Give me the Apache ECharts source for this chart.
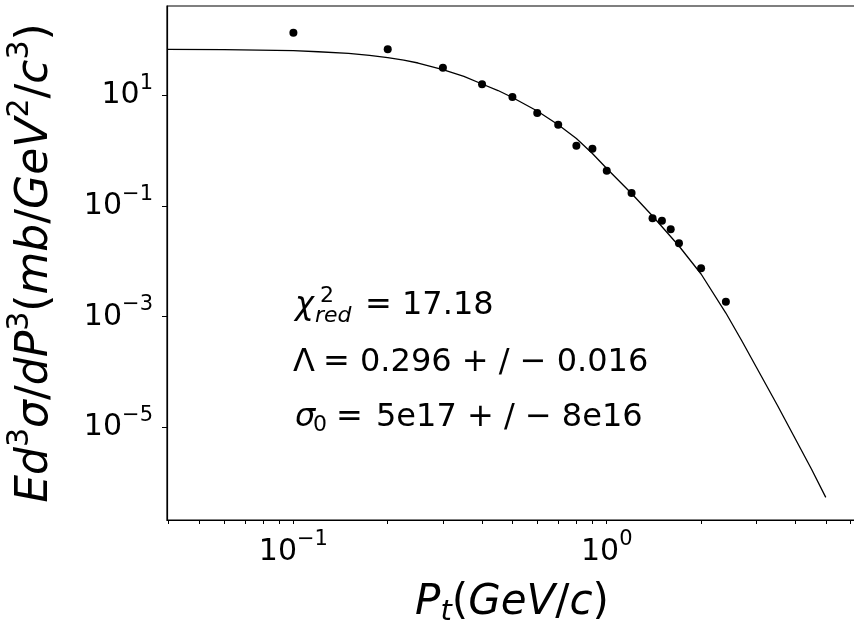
<!DOCTYPE html>
<html>
<head>
<meta charset="utf-8">
<script src="https://cdn.jsdelivr.net/npm/echarts@6.0.0/dist/echarts.min.js"></script>
<style>
html, body { margin: 0; padding: 0; background: #fff; }
#chart { width: 854px; height: 624px; }
</style>
</head>
<body>
<div id="chart"></div>
<script>
// measured spectrum points (pt in GeV/c, invariant yield)
const ptData = [0.1, 0.2, 0.3, 0.4, 0.5, 0.6, 0.7, 0.8, 0.9, 1.0, 1.2, 1.4, 1.5, 1.6, 1.7, 2.0, 2.4];
const yieldData = [136.6, 68.4, 31.8, 15.9, 9.40, 4.83, 2.96, 1.236, 1.09, 0.437, 0.1725, 0.0604, 0.0542, 0.0380, 0.0212, 0.0075, 0.00187];

// fit curve
const fitPt = [0.0396, 0.06, 0.1, 0.12, 0.15, 0.175, 0.2, 0.225, 0.25, 0.3, 0.35, 0.4, 0.45, 0.5, 0.6, 0.7, 0.8, 0.9, 1.0, 1.2, 1.4, 1.7, 2.0, 2.4, 2.7, 3.0, 3.5, 4.0, 4.5, 5.0];
const fitYield = [68.45, 67.3, 64.6, 61.9, 57.96, 53.1, 48.27, 43.5, 38.7, 29.5, 22.1, 16.14, 12.3, 9.20, 5.24, 2.965, 1.669, 0.894, 0.4785, 0.169, 0.0662, 0.0190, 0.00592, 0.001166, 3.636e-4, 1.231e-4, 2.53e-5, 6.14e-6, 1.762e-6, 5.42e-7];

// ticks and labels
const xTickValues = [0.04, 0.05, 0.06, 0.07, 0.08, 0.09, 0.1, 0.2, 0.3, 0.4, 0.5, 0.6, 0.7, 0.8, 0.9, 1, 2, 3, 4, 5, 6];
const xLabelValues = [0.1, 1];
const yLabelValues = [10, 0.1, 0.001, 0.00001];

// fit results text
const chiValue = '17.18';
const lambdaText = '0.296 + / \u2212 0.016';
const sigmaText = '5e17 + / \u2212 8e16';

const FONT = '"DejaVu Sans", sans-serif';

const chart = echarts.init(document.getElementById('chart'));

const powLabel = (v) => {
    const e = Math.round(Math.log10(v));
    return '{b|10}{s|' + String(e).replace('-', '\u2212') + '}';
};

const labelRich = {
    b: { fontSize: 30, lineHeight: 30, fontFamily: FONT, color: '#000' },
    s: { fontSize: 21, lineHeight: 21, fontFamily: FONT, color: '#000', padding: [0, 0, 24, 0] }
};

const txt = (text, x, y, size, italic) => ({
    type: 'text',
    x: x,
    y: y,
    silent: true,
    style: {
        text: text,
        font: (italic ? 'italic ' : '') + size + 'px ' + FONT,
        fill: '#000',
        verticalAlign: 'middle'
    }
});

const option = {
    animation: false,
    backgroundColor: '#fff',
    grid: {
        left: 167,
        top: 6,
        width: 690,
        height: 514,
        outerBoundsMode: 'none',
        containLabel: false,
        show: true,
        borderColor: '#000',
        borderWidth: 1.2
    },
    xAxis: {
        type: 'log',
        logBase: 10,
        min: 0.0395,
        max: 6.29,
        axisLine: { show: true, lineStyle: { color: '#000', width: 1.2 } },
        axisTick: { show: true, length: 4, customValues: xTickValues, lineStyle: { color: '#000', width: 1 } },
        axisLabel: { customValues: xLabelValues, formatter: powLabel, margin: 17, rich: labelRich },
        splitLine: { show: false },
        minorTick: { show: false },
        name: '{i|P}{sub|t}{n|(}{i|GeV}{n|/}{i|c}{n|)}',
        nameLocation: 'middle',
        nameGap: 59,
        nameTextStyle: {
            rich: {
                i: { fontSize: 42, lineHeight: 46, fontStyle: 'italic', fontFamily: FONT, color: '#000' },
                n: { fontSize: 42, lineHeight: 46, fontFamily: FONT, color: '#000' },
                sub: { fontSize: 29, lineHeight: 29, fontStyle: 'italic', fontFamily: FONT, color: '#000', padding: [19, 0, 0, 0] }
            }
        }
    },
    yAxis: {
        type: 'log',
        logBase: 10,
        min: 2.11e-7,
        max: 415.5,
        axisLine: { show: true, lineStyle: { color: '#000', width: 1.2 } },
        axisTick: { show: true, length: 5, customValues: yLabelValues, lineStyle: { color: '#000', width: 1 } },
        axisLabel: { customValues: yLabelValues, formatter: powLabel, margin: 14, rich: labelRich },
        splitLine: { show: false },
        name: '{i|Ed}{sup|3}{i|\u03c3}{n|/}{i|dP}{sup|3}{n|(}{i|mb}{n|/}{i|GeV}{sup|2}{n|/}{i|c}{sup|3}{n|)}',
        nameLocation: 'middle',
        nameRotate: 90,
        nameGap: 108,
        nameTextStyle: {
            rich: {
                i: { fontSize: 44, lineHeight: 46, fontStyle: 'italic', fontFamily: FONT, color: '#000' },
                n: { fontSize: 44, lineHeight: 46, fontFamily: FONT, color: '#000' },
                sup: { fontSize: 30, lineHeight: 30, fontFamily: FONT, color: '#000', padding: [0, 0, 32, 0] }
            }
        }
    },
    series: [
        {
            name: 'fit',
            type: 'line',
            data: fitPt.map((p, i) => [p, fitYield[i]]),
            showSymbol: false,
            smooth: false,
            lineStyle: { color: '#000', width: 1.3 },
            z: 2
        },
        {
            name: 'data',
            type: 'scatter',
            data: ptData.map((p, i) => [p, yieldData[i]]),
            symbol: 'circle',
            symbolSize: 8,
            itemStyle: { color: '#000', opacity: 1 },
            z: 3
        }
    ],
    graphic: [
        txt('\u03c7', 295, 305.5, 32, true),
        txt('2', 320, 296.5, 22, false),
        txt('red', 315, 316.5, 22, true),
        txt('=', 365, 305.5, 32, false),
        txt(chiValue, 402, 305.5, 32, false),
        txt('\u039b', 293, 362.5, 32, false),
        txt('=', 323, 362.5, 32, false),
        txt(lambdaText, 360, 362.5, 32, false),
        txt('\u03c3', 295, 417.5, 32, true),
        txt('0', 313, 425.5, 22, false),
        txt('=', 336, 417.5, 32, false),
        txt(sigmaText, 376, 417.5, 32, false)
    ]
};

chart.setOption(option);
window.addEventListener('resize', () => chart.resize());
</script>
</body>
</html>
